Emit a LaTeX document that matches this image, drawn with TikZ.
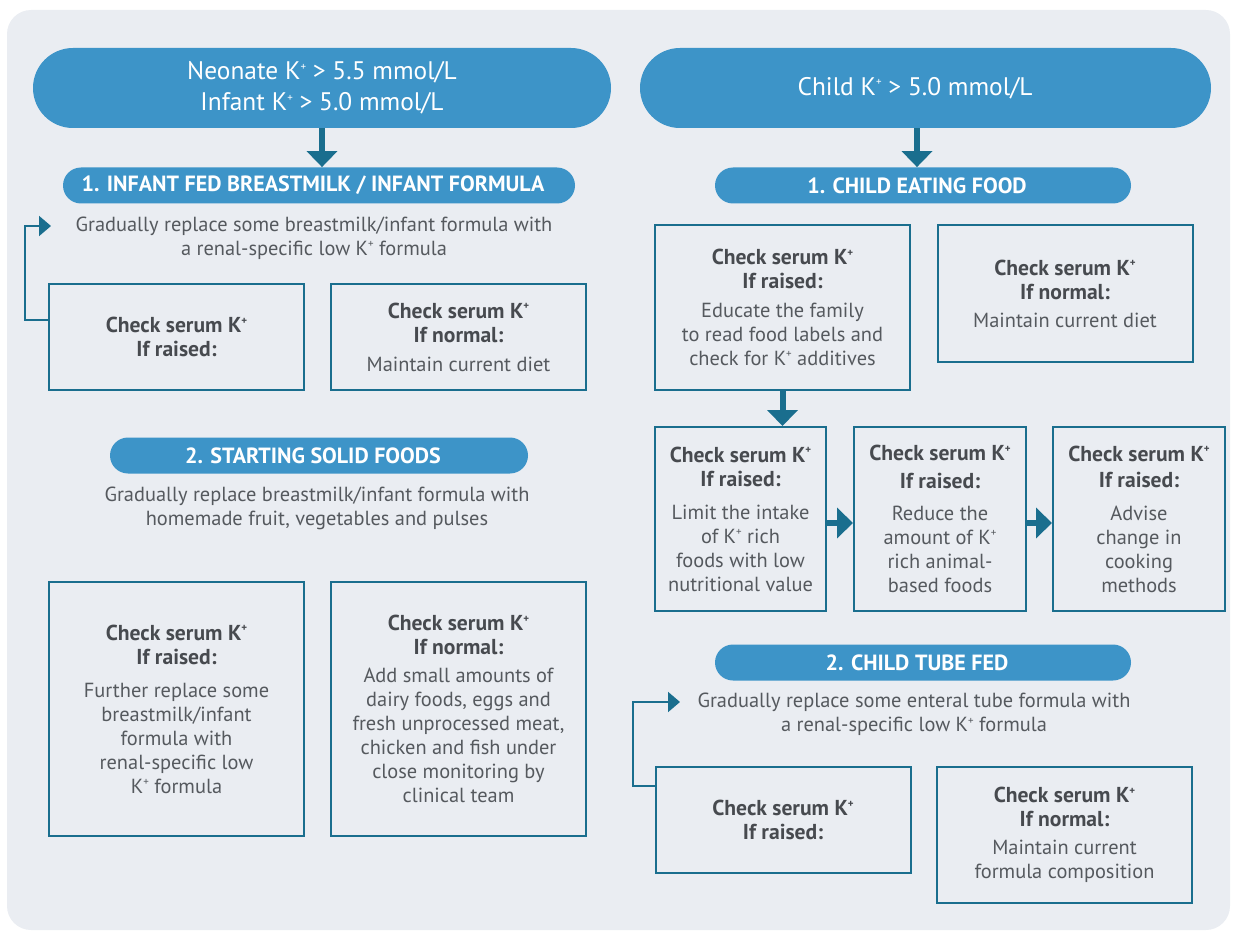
\documentclass[tikz,border=0pt]{standalone}
\usepackage{fontspec}
\setmainfont{PT Sans}
\usetikzlibrary{arrows.meta,positioning}
\definecolor{bgcol}{HTML}{EAEDF2}
\definecolor{pillblue}{HTML}{3D94C8}
\definecolor{flowteal}{HTML}{1A6E8E}
\definecolor{txtgray}{HTML}{55595E}
\definecolor{headgray}{HTML}{474A4F}
\newcommand{\Kp}{K\raisebox{0.75ex}{\fontsize{5.5}{5.5}\selectfont +}}
\newcommand{\hd}[1]{\textcolor{headgray}{\fontsize{10.8}{12}\selectfont\bfseries #1}}
\newcommand{\chkhead}[1]{\hd{Check serum \Kp}\\\hd{If #1:}}

\begin{document}
\begin{tikzpicture}[%
        x=0.5pt, y=-0.5pt,
        every node/.style={inner sep=0pt, align=center, text=txtgray,
          font=\fontsize{10.2}{12}\selectfont},
        bigpill/.style={fill=pillblue, rounded corners=20pt, minimum height=40pt,
          text=white, font=\fontsize{12.7}{15.5}\selectfont},
        pill/.style={fill=pillblue, rounded corners=9pt, minimum height=18pt,
          text=white, font=\bfseries\fontsize{11}{12}\selectfont,
          execute at end node={\hspace*{6pt}}},
        chkbox/.style={draw=flowteal, line width=1pt},
        widebox/.style={chkbox, minimum width=127.5pt},
        narrowbox/.style={chkbox, minimum width=86pt, minimum height=92pt},
        bigarrow/.style={draw=flowteal, line width=3pt, -{Triangle[width=15pt,length=8pt]}},
        looparrow/.style={draw=flowteal, line width=1pt, -{Triangle[width=10pt,length=6pt]}}
      ]
      \useasboundingbox (0,0) rectangle (1233,931);
      \fill [bgcol, rounded corners=12pt] (7,10) rectangle (1230,930);

      % left column: neonate / infant
      \node [bigpill, minimum width=289pt] (neo) at (322,88) {Neonate \Kp{} > 5.5 mmol/L\\Infant \Kp{} > 5.0 mmol/L};
      \node [pill, minimum width=256pt] (infant) at (319,185.5) {1. INFANT FED BREASTMILK / INFANT FORMULA};
      \node (inftext) at (314,238) {Gradually replace some breastmilk/infant formula with\\a renal-specific low \Kp{} formula};
      \node [widebox, minimum height=53pt] (infraised) at (176.5,337) {\chkhead{raised}};
      \node [widebox, minimum height=53pt] (infnormal) at (458.5,337) {\chkhead{normal}\\[2.5pt]Maintain current diet};
      \node [pill, minimum width=209pt] (solid) at (319,455.5) {2. STARTING SOLID FOODS};
      \node (solidtext) at (317,508.5) {Gradually replace breastmilk/infant formula with\\homemade fruit, vegetables and pulses};
      \node [widebox, minimum height=127pt] (solraised) at (176.5,709) {\chkhead{raised}\\[4.5pt]Further replace some\\breastmilk/infant\\formula with\\renal-specific low\\\Kp{} formula};
      \node [widebox, minimum height=127pt] (solnormal) at (458.5,709) {\chkhead{normal}\\[2pt]Add small amounts of\\dairy foods, eggs and\\fresh unprocessed meat,\\chicken and fish under\\close monitoring by\\clinical team};

      % right column: child
      \node [bigpill, minimum width=285.5pt, execute at end node={\hspace*{10.5pt}}] (child) at (925.5,88) {Child \Kp{} > 5.0 mmol/L};
      \node [pill, minimum width=208pt] (eating) at (923,185.5) {1. CHILD EATING FOOD};
      \node [widebox, minimum height=82.5pt] (eatraised) at (782.5,307.5) {\chkhead{raised}\\[2.5pt]Educate the family\\to read food labels and\\check for \Kp{} additives};
      \node [widebox, minimum height=68.5pt] (eatnormal) at (1065,293.5) {\chkhead{normal}\\[2pt]Maintain current diet};
      \node [narrowbox, minimum width=85.5pt] (limit) at (740.5,519) {\chkhead{raised}\\[4.5pt]Limit the intake\\of \Kp{} rich\\foods with low\\nutritional value};
      \node [narrowbox] (reduce) at (940,519) {\hd{Check serum \Kp}\\[2pt]\hd{If raised:}\\[4pt]Reduce the\\amount of \Kp\\rich animal-\\based foods};
      \node [narrowbox] (cooking) at (1139,519) {\hd{Check serum \Kp}\\[1pt]\hd{If raised:}\\[4.5pt]Advise\\change in\\cooking\\methods};
      \node [pill, minimum width=208pt] (tube) at (923,662.5) {2. CHILD TUBE FED};
      \node (tubetext) at (914,714.5) {Gradually replace some enteral tube formula with\\a renal-specific low \Kp{} formula};
      \node [widebox, minimum height=53pt] (tuberaised) at (783,820) {\chkhead{raised}};
      \node [widebox, minimum height=68pt] (tubenormal) at (1064.5,835) {\chkhead{normal}\\[2pt]Maintain current\\formula composition};

      % connectors
      \coordinate (childx) at (917,0);
      \coordinate (infloop) at (25,226);
      \coordinate (infin) at (51,226);
      \coordinate (tubeloop) at (633,702);
      \coordinate (tubein) at (680,702);
      \draw [bigarrow] (neo.south) -- (neo.south |- infant.north);
      \draw [bigarrow] (child.south -| childx) -- (eating.north -| childx);
      \draw [bigarrow] (eatraised.south) -- (eatraised.south |- limit.north);
      \draw [bigarrow] ([yshift=-2pt]limit.east) -- ([yshift=-2pt]reduce.west);
      \draw [bigarrow] ([yshift=-2pt]reduce.east) -- ([yshift=-2pt]cooking.west);
      \draw [looparrow] ([yshift=8.5pt]infraised.west) -| (infloop) -- (infin);
      \draw [looparrow] ([yshift=17pt]tuberaised.west) -| (tubeloop) -- (tubein);
    \end{tikzpicture}
\end{document}
